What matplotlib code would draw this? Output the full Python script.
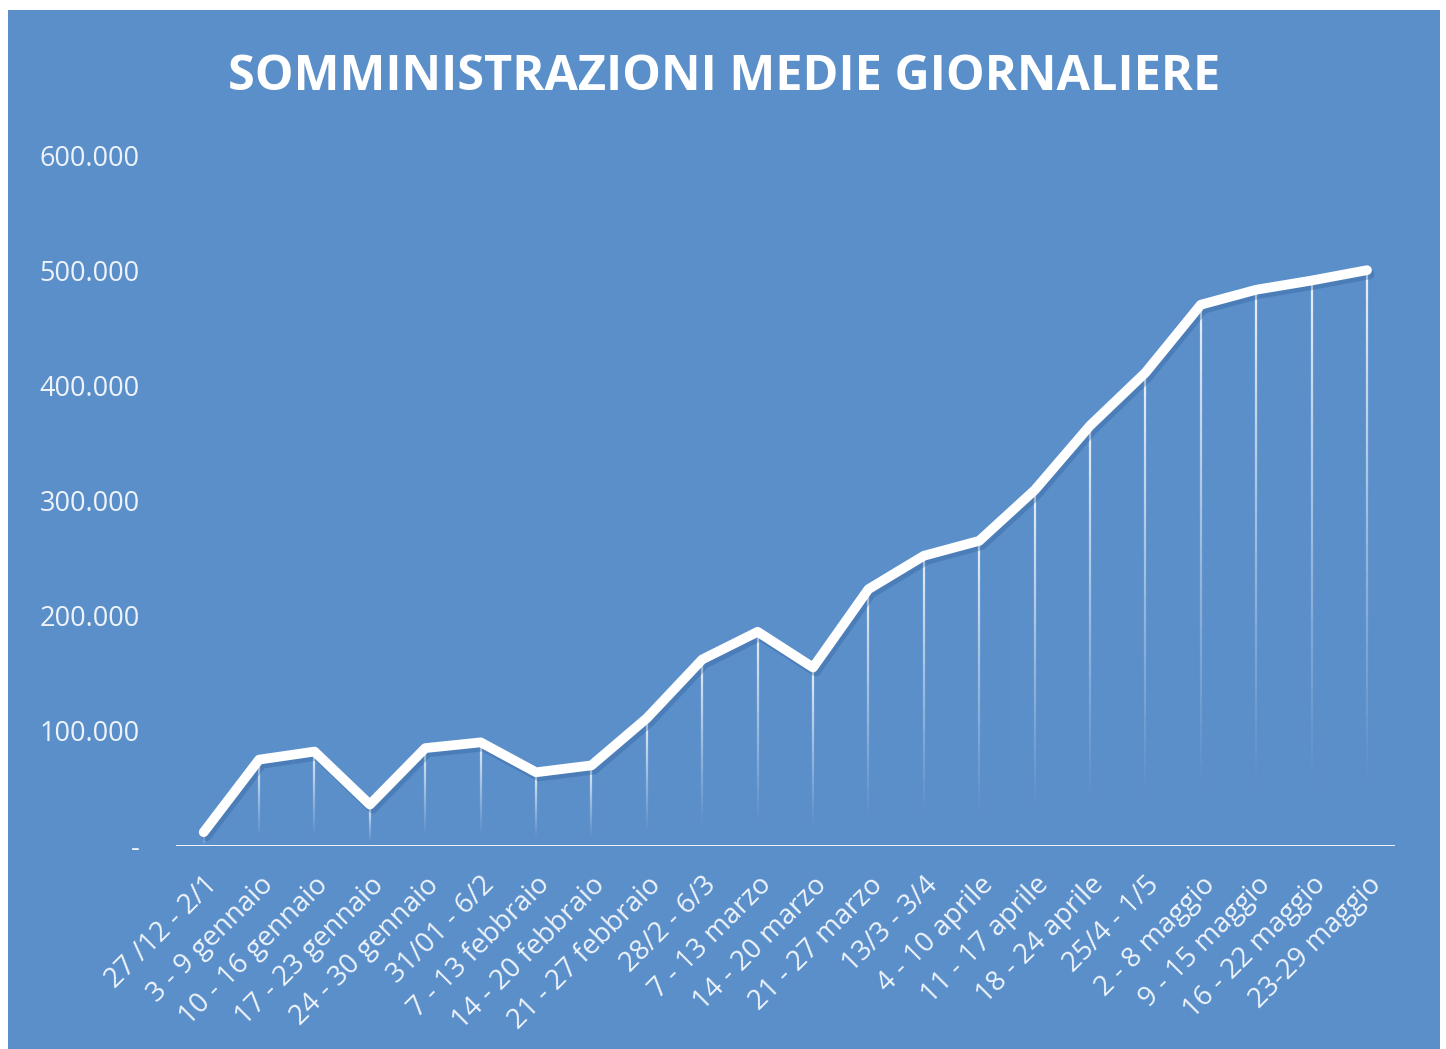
import numpy as np
import matplotlib
matplotlib.use("Agg")
import matplotlib.pyplot as plt
import matplotlib.patheffects as pe
from matplotlib.collections import LineCollection
from matplotlib.patches import Rectangle
from matplotlib.ticker import FuncFormatter

# weekly periods (labels as in the original)
weeks = ["27 /12 - 2/1", "3 - 9 gennaio", "10 - 16 gennaio", "17 - 23 gennaio",
         "24 - 30 gennaio", "31/01 - 6/2", "7 - 13 febbraio", "14 - 20 febbraio",
         "21 - 27 febbraio", "28/2 - 6/3", "7 - 13 marzo", "14 - 20 marzo",
         "21 - 27 marzo", "13/3 - 3/4", "4 - 10 aprile", "11 - 17 aprile",
         "18 - 24 aprile", "25/4 - 1/5", "2 - 8 maggio", "9 - 15 maggio",
         "16 - 22 maggio", "23-29 maggio"]
# average daily doses
doses = [12000, 75000, 82000, 36000, 85000, 90000, 64000, 70000,
         111000, 162000, 186000, 155000, 223000, 252000, 265000, 309000,
         365000, 411000, 470000, 483000, 491000, 500000]
yticks = [0, 100000, 200000, 300000, 400000, 500000, 600000]

bg = "#5b8fca"
W, H = 1446, 1049

fig = plt.figure(figsize=(W / 100, H / 100), dpi=100, facecolor="white")
fig.patches.append(Rectangle((8 / W, 0), (1440 - 8) / W, (1049 - 10) / H,
                             transform=fig.transFigure, facecolor=bg,
                             edgecolor="none", zorder=-10))

ax = fig.add_axes([176 / W, (H - 846) / H, (1394.7 - 176) / W, (846 - 155) / H])
ax.set_facecolor("none")
ax.set_zorder(1)

x = np.arange(len(doses))

# drop lines fading toward the axis
nseg = 40
for xi, yi in zip(x, doses):
    ys = np.linspace(0, yi, nseg + 1)
    segs = [[(xi, ys[k]), (xi, ys[k + 1])] for k in range(nseg)]
    alphas = np.clip(np.linspace(-0.1, 1.0, nseg), 0, 1) ** 1.1 * 0.85
    cols = [(1, 1, 1, a) for a in alphas]
    ax.add_collection(LineCollection(segs, colors=cols, linewidths=1.6, zorder=2))

ax.plot(x, doses, color="white", lw=7, solid_capstyle="round",
        solid_joinstyle="round", zorder=3,
        path_effects=[pe.SimpleLineShadow(offset=(2, -3), shadow_color="#2f5f9a", alpha=0.35),
                      pe.Normal()])

ax.axhline(0, color="white", lw=2, zorder=4)

ax.set_xlim(-0.5, len(doses) - 0.5)
ax.set_ylim(0, 600000)
ax.set_yticks(yticks)
ax.yaxis.set_major_formatter(FuncFormatter(
    lambda v, p: "-" if v == 0 else f"{int(v):,}".replace(",", ".")))
ax.set_xticks(x)
ax.set_xticklabels(weeks, rotation=45, ha="right", rotation_mode="anchor")

for s in ax.spines.values():
    s.set_visible(False)
ax.tick_params(axis="both", length=0, colors="#eef3fa")
ax.tick_params(axis="x", pad=18, labelsize=20)
ax.tick_params(axis="y", pad=26, labelsize=19.5)
for t in ax.get_yticklabels() + ax.get_xticklabels():
    t.set_fontfamily("Open Sans")

fig.text(724 / W, (H - 77) / H, "SOMMINISTRAZIONI MEDIE GIORNALIERE",
         ha="center", va="center", color="white", fontsize=35,
         fontweight="bold", fontfamily="Open Sans")

fig.savefig("out.png", dpi=100, facecolor="white")
